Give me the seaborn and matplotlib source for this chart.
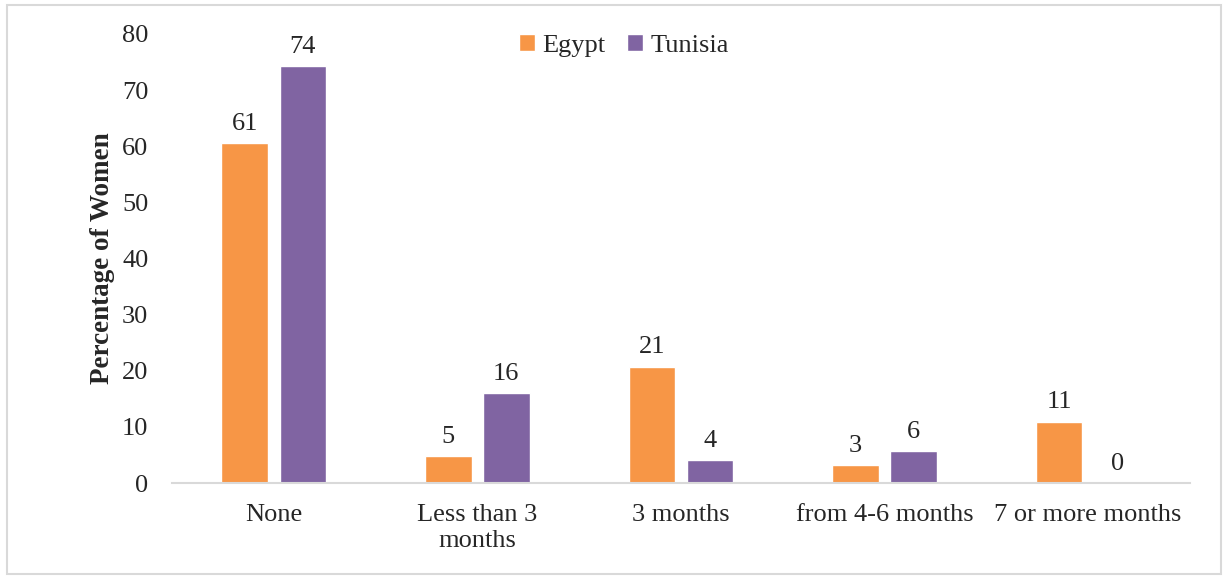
import pandas as pd
import matplotlib
matplotlib.use("Agg")
import matplotlib.pyplot as plt
import seaborn as sns
from matplotlib.patches import Rectangle

# Data
categories = ["None", "Less than 3\nmonths", "3 months", "from 4-6 months", "7 or more months"]
egypt = [60.6, 4.8, 20.7, 3.2, 10.9]
tunisia = [74.3, 16.0, 4.1, 5.7, 0.0]
egypt_labels = ["61", "5", "21", "3", "11"]
tunisia_labels = ["74", "16", "4", "6", "0"]
countries = ["Egypt", "Tunisia"]
colors = ["#F79646", "#8064A2"]

sns.set_theme(style="white")
plt.rcParams["font.family"] = ["Liberation Serif", "DejaVu Serif"]

df = pd.DataFrame({
    "category": categories * 2,
    "country": [countries[0]] * len(categories) + [countries[1]] * len(categories),
    "value": egypt + tunisia,
})

fig = plt.figure(figsize=(12.28, 5.79), dpi=100)
ax = fig.add_axes([0.140, 0.1658, 0.829, 0.7755])

sns.barplot(
    data=df, x="category", y="value", hue="country",
    palette=colors, width=0.57, gap=0.2, ax=ax,
    saturation=1, errorbar=None,
)

for cont, labels in zip(ax.containers, [egypt_labels, tunisia_labels]):
    ax.bar_label(cont, labels=labels, padding=6, fontsize=19)

ax.set_ylim(0, 80)
ax.set_yticks(range(0, 81, 10))
ax.set_xlim(-0.5, len(categories) - 0.5)
ax.set_xlabel("")
ax.set_ylabel("Percentage of Women", fontsize=19.5, fontweight="bold", labelpad=5)
ax.tick_params(axis="y", labelsize=19, length=0, pad=17)
ax.tick_params(axis="x", labelsize=19, length=0, pad=15)
for lab in ax.get_xticklabels():
    lab.set_linespacing(1.25)

for side in ["top", "right", "left"]:
    ax.spines[side].set_visible(False)
ax.spines["bottom"].set_color("#D9D9D9")
ax.spines["bottom"].set_linewidth(1.5)

ax.legend(
    loc="center", bbox_to_anchor=(0.444, 0.975), ncol=2, frameon=False,
    fontsize=19, handlelength=0.6, handleheight=0.6, handletextpad=0.3,
    columnspacing=0.8,
)

# light gray frame around the chart area
fig.patches.append(Rectangle((0.006, 0.008), 0.988, 0.984, transform=fig.transFigure,
                             fill=False, edgecolor="#D9D9D9", linewidth=1.5))

fig.savefig("out.png", dpi=100)
